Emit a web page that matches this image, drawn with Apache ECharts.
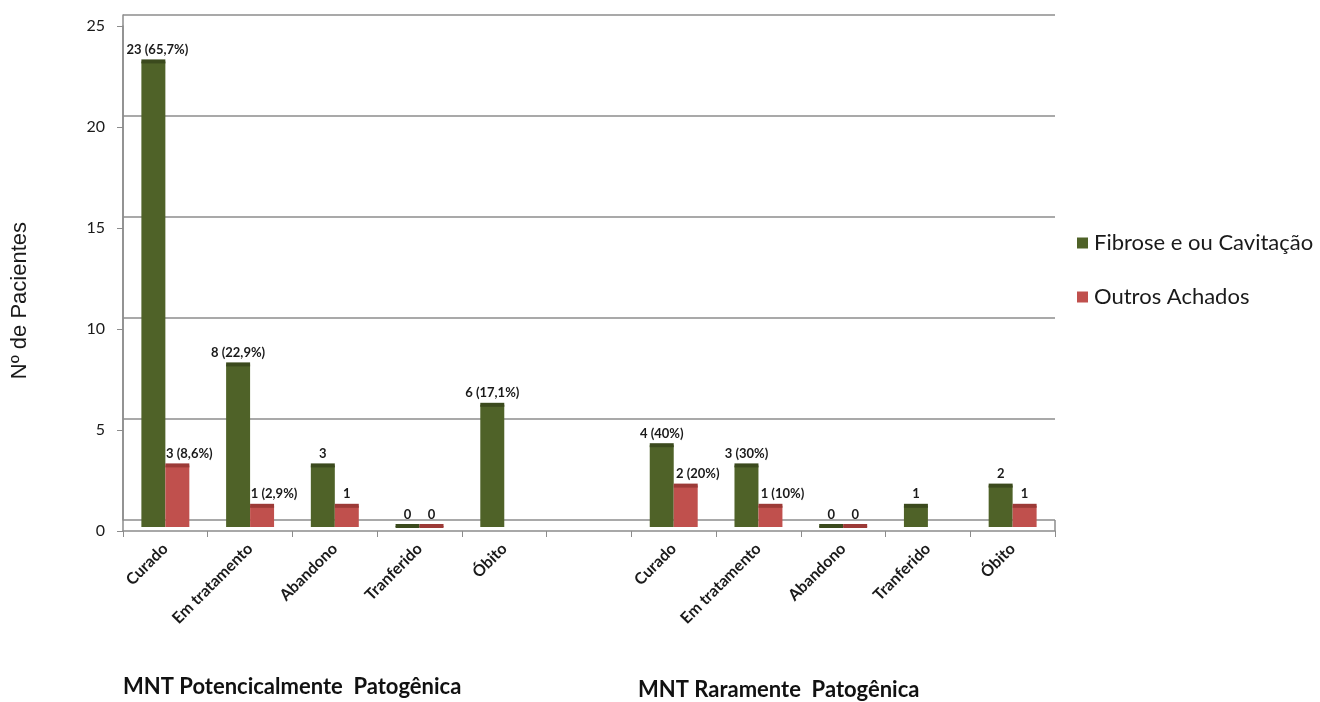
<!DOCTYPE html>
<html>
<head>
<meta charset="utf-8">
<script src="https://cdn.jsdelivr.net/npm/echarts@6/dist/echarts.min.js"></script>
<style>
  html, body { margin: 0; padding: 0; background: #ffffff; }
  #chart { width: 1320px; height: 702px; }
</style>
</head>
<body>
<div id="chart"></div>
<script>
// Outcome categories for both MNT groups (blank slot separates the groups)
const categories = ['Curado', 'Em tratamento', 'Abandono', 'Tranferido', 'Óbito', '',
                    'Curado', 'Em tratamento', 'Abandono', 'Tranferido', 'Óbito'];

// Patients with fibrosis and/or cavitation
const fibrose = [23, 8, 3, 0, 6, null, 4, 3, 0, 1, 2];
const fibroseLabels = ['23 (65,7%)', '8 (22,9%)', '3', '0', '6 (17,1%)', '',
                       '4 (40%)', '3 (30%)', '0', '1', '2'];

// Patients with other findings
const outros = [3, 1, 1, 0, null, null, 2, 1, 0, null, 1];
const outrosLabels = ['3 (8,6%)', '1 (2,9%)', '1', '0', '', '',
                      '2 (20%)', '1 (10%)', '0', '', '1'];

const yTicks = [0, 5, 10, 15, 20, 25];

const seriesNames = ['Fibrose e ou Cavitação', 'Outros Achados'];
const groupTitles = ['MNT Potencicalmente  Patogênica', 'MNT Raramente  Patogênica'];

const GREEN = '#4f6228', GREEN_TOP = '#3b4a1d';
const RED = '#c0504d', RED_TOP = '#9c3a37';
const GRID_GRAY = '#8c8c8c';
const LABEL_FONT = 'Lato, "Open Sans", sans-serif';

function toData(values) {
  const out = [];
  values.forEach((v, i) => { if (v !== null) out.push([i, v]); });
  return out;
}

// Column with a darker top face, like a shallow 3D column
function makeRender(side, labels, body, top) {
  return function (params, api) {
    const ci = api.value(0), v = api.value(1);
    const base = api.coord([ci, 0]);
    const tip = api.coord([ci, v]);
    const band = api.size([1, 0])[0];
    const bw = band * 0.283;
    const x0 = side === 0 ? base[0] - bw : base[0];
    const yBottom = base[1] - 4;
    const yTop = tip[1] - 5;
    const text = labels[ci];
    const long = text.length > 2;
    const dx = side === 1 && long ? 12 : (long && v > 20 ? 4 : 0);
    return {
      type: 'group',
      children: [
        { type: 'rect', shape: { x: x0, y: yTop, width: bw, height: Math.max(0, yBottom - yTop) },
          style: { fill: body } },
        { type: 'rect', shape: { x: x0, y: tip[1] - 7, width: bw, height: 4 },
          style: { fill: top } },
        { type: 'text', x: x0 + bw / 2 + dx, y: tip[1] - 10,
          style: { text: text, align: 'center', verticalAlign: 'bottom',
                   font: 'bold 13px ' + LABEL_FONT, fill: '#1a1a1a' } }
      ]
    };
  };
}

const chart = echarts.init(document.getElementById('chart'), null, { renderer: 'canvas' });

const option = {
  backgroundColor: '#ffffff',
  animation: false,
  legend: {
    orient: 'vertical',
    left: 1072,
    top: 227,
    itemWidth: 11,
    itemHeight: 11,
    itemGap: 32,
    icon: 'rect',
    textStyle: { fontFamily: LABEL_FONT, fontSize: 22, color: '#1a1a1a', padding: [0, 0, 0, 1] },
    data: seriesNames
  },
  grid: [
    // back wall with gridlines
    { left: 123, right: 265, top: 15, bottom: 182, containLabel: false },
    // front plane carrying the axes and columns
    { left: 123, right: 265, top: 26, bottom: 171, containLabel: false }
  ],
  xAxis: [
    { type: 'category', gridIndex: 0, data: categories, show: false },
    {
      type: 'category', gridIndex: 1, data: categories, boundaryGap: true,
      axisLine: { show: true, lineStyle: { color: GRID_GRAY, width: 1.5 } },
      axisTick: { show: true, interval: 0, length: 6, lineStyle: { color: GRID_GRAY } },
      axisLabel: {
        interval: 0, rotate: 45, margin: 15,
        fontFamily: LABEL_FONT, fontWeight: 'bold', fontSize: 16, color: '#1a1a1a'
      },
      splitLine: { show: false }
    }
  ],
  yAxis: [
    {
      type: 'value', gridIndex: 0, min: yTicks[0], max: yTicks[yTicks.length - 1], interval: 5,
      axisLabel: { show: false }, axisTick: { show: false },
      axisLine: { show: true, lineStyle: { color: GRID_GRAY, width: 1.5 } },
      splitLine: { show: true, lineStyle: { color: GRID_GRAY, width: 1.6 } }
    },
    {
      type: 'value', gridIndex: 1, min: yTicks[0], max: yTicks[yTicks.length - 1], interval: 5,
      axisLine: { show: true, lineStyle: { color: GRID_GRAY, width: 1.5 } },
      axisTick: { show: true, length: 6, lineStyle: { color: GRID_GRAY } },
      axisLabel: { margin: 18, fontFamily: LABEL_FONT, fontSize: 16, color: '#1a1a1a' },
      splitLine: { show: false }
    }
  ],
  graphic: [
    { type: 'text', left: 9, top: 222, rotation: Math.PI / 2, z: 10,
      style: { text: 'Nº de Pacientes', font: '22px "Liberation Sans", Arial, sans-serif', fill: '#1a1a1a' } },
    { type: 'line', shape: { x1: 1055, y1: 520, x2: 1055, y2: 531 },
      style: { stroke: GRID_GRAY, lineWidth: 1.5 } },
    { type: 'text', left: 123, top: 676,
      style: { text: groupTitles[0], font: 'bold 22px ' + LABEL_FONT, fill: '#111' } },
    { type: 'text', left: 638, top: 679,
      style: { text: groupTitles[1], font: 'bold 22px ' + LABEL_FONT, fill: '#111' } }
  ],
  series: [
    {
      name: seriesNames[0], type: 'custom', xAxisIndex: 1, yAxisIndex: 1,
      itemStyle: { color: GREEN },
      renderItem: makeRender(0, fibroseLabels, GREEN, GREEN_TOP),
      data: toData(fibrose), z: 5
    },
    {
      name: seriesNames[1], type: 'custom', xAxisIndex: 1, yAxisIndex: 1,
      itemStyle: { color: RED },
      renderItem: makeRender(1, outrosLabels, RED, RED_TOP),
      data: toData(outros), z: 5
    }
  ]
};

chart.setOption(option);
</script>
</body>
</html>
